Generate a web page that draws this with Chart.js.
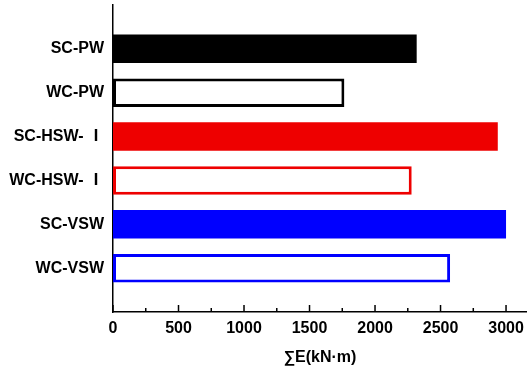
<!DOCTYPE html>
<html>
<head>
<meta charset="utf-8">
<script src="https://cdn.jsdelivr.net/npm/chart.js@4/dist/chart.umd.min.js"></script>
<style>
html,body{margin:0;padding:0;background:#fff;}
#wrap{width:527px;height:373px;}
</style>
</head>
<body>
<div id="wrap"><canvas id="c" width="527" height="373"></canvas></div>
<script>
const categories = ['SC-PW', 'WC-PW', 'SC-HSW- \u2160', 'WC-HSW- \u2160', 'SC-VSW', 'WC-VSW'];
const energyValues = [2318, 1766, 2937, 2280, 3000, 2573];
const xTickValues = [0, 500, 1000, 1500, 2000, 2500, 3000];
const xAxisTitle = '\u2211E(kN\u00B7m)';
const fillColors = ['#000000', '#ffffff', '#ee0000', '#ffffff', '#0000ff', '#ffffff'];
const edgeColors = ['#000000', '#000000', '#ee0000', '#ee0000', '#0000ff', '#0000ff'];
const edgeWidths = [0, 3, 0, 3, 0, 3];

const labels = ['', ...categories, ''];
const pad = a => [null, ...a, null];

const FONT = "'Liberation Sans', Arial, 'Noto Sans CJK SC', sans-serif";

const tickPlugin = {
  id: 'inwardTicks',
  afterDraw(chart) {
    const xs = chart.scales.x;
    const ctx = chart.ctx;
    const yb = chart.chartArea.bottom;
    ctx.save();
    ctx.strokeStyle = '#000';
    ctx.lineWidth = 1.5;
    const step = 250;
    for (let v = xTickValues[0]; v <= xTickValues[xTickValues.length - 1]; v += step) {
      const px = xs.getPixelForValue(v);
      const len = xTickValues.includes(v) ? 7 : 4;
      ctx.beginPath();
      ctx.moveTo(px, yb);
      ctx.lineTo(px, yb - len);
      ctx.stroke();
    }
    ctx.restore();
  }
};

new Chart(document.getElementById('c'), {
  type: 'bar',
  data: {
    labels: labels,
    datasets: [{
      data: pad(energyValues),
      backgroundColor: pad(fillColors),
      borderColor: pad(edgeColors),
      borderWidth: pad(edgeWidths),
      borderSkipped: false,
      categoryPercentage: 1,
      barPercentage: 0.65
    }]
  },
  options: {
    indexAxis: 'y',
    responsive: false,
    animation: false,
    devicePixelRatio: 1,
    layout: { padding: { top: 5, right: 0, left: 0, bottom: 0 } },
    plugins: { legend: { display: false }, tooltip: { enabled: false } },
    scales: {
      y: {
        type: 'category',
        offset: false,
        grid: { display: false, drawTicks: false, tickLength: 0, offset: false },
        border: { display: true, color: '#000', width: 1.5 },
        ticks: {
          color: '#000',
          padding: 9,
          autoSkip: false,
          font: { family: FONT, size: 16, weight: 'bold' }
        },
        afterFit(s) { s.width = 113; s.paddingTop = 0; s.paddingBottom = 0; }
      },
      x: {
        type: 'linear',
        min: 0,
        max: 3160,
        grid: { display: false, drawTicks: false, tickLength: 0 },
        border: { display: true, color: '#000', width: 1.5 },
        afterBuildTicks(s) { s.ticks = xTickValues.map(v => ({ value: v })); },
        ticks: {
          color: '#000',
          padding: 7,
          maxRotation: 0,
          autoSkip: false,
          callback: v => String(v),
          font: { family: FONT, size: 16, weight: 'bold' }
        },
        title: {
          display: true,
          text: xAxisTitle,
          color: '#000',
          padding: { top: 0, bottom: 6 },
          font: { family: FONT, size: 16, weight: 'bold' }
        },
        afterFit(s) { s.height = 61; s.paddingLeft = 0; s.paddingRight = 0; }
      }
    }
  },
  plugins: [tickPlugin]
});
</script>
</body>
</html>
